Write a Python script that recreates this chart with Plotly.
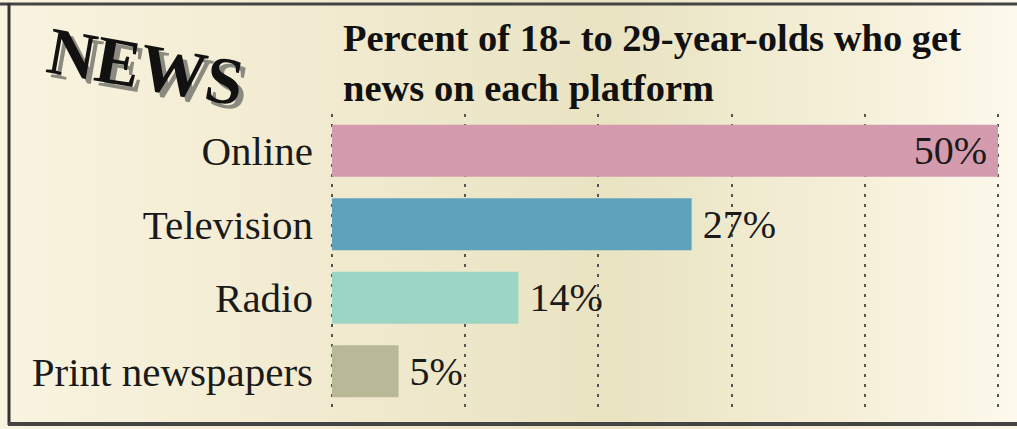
import plotly.graph_objects as go
import base64

categories = ["Online", "Television", "Radio", "Print newspapers"]
values = [50, 27, 14, 5]
bar_colors = ["#d49aae", "#5fa2bb", "#9dd5c5", "#b9b998"]
title_text = "Percent of 18- to 29-year-olds who get<br>news on each platform"
badge_text = "NEWS"

W, H = 1017, 429
XMIN, XMAX = -0.3, 50.3
L, R, T, B = 328, 15, 114, 21
pw, ph = W - L - R, H - T - B


def px(x):
    return (x - L) / pw


def py(y):
    return (H - B - y) / ph


svg = f'''<svg xmlns="http://www.w3.org/2000/svg" width="{W}" height="{H}" viewBox="0 0 {W} {H}" preserveAspectRatio="none">
<defs><linearGradient id="g" x1="0" y1="0" x2="1" y2="0">
<stop offset="0" stop-color="#f9f4e0"/>
<stop offset="0.3" stop-color="#f2ebd1"/>
<stop offset="0.6" stop-color="#e9e3c2"/>
<stop offset="0.85" stop-color="#f6f0da"/>
<stop offset="1" stop-color="#fdf9ec"/>
</linearGradient></defs>
<rect x="0" y="0" width="{W}" height="{H}" fill="url(#g)"/>
</svg>'''
bg_uri = "data:image/svg+xml;base64," + base64.b64encode(svg.encode()).decode()

labels = [f"{v}%" for v in values]
text_pos = ["inside", "outside", "outside", "outside"]
templates = ["%{text}\u2009" if p == "inside" else "\u2009%{text}" for p in text_pos]

label_font = dict(family="Liberation Serif", size=40, color="#1a1a1a")

fig = go.Figure()
fig.add_trace(go.Bar(
    x=values, y=categories, orientation="h",
    marker=dict(color=bar_colors, line=dict(width=0)),
    text=labels, texttemplate=templates, textposition=text_pos,
    insidetextanchor="end",
    textfont=label_font, insidetextfont=label_font, outsidetextfont=label_font,
    cliponaxis=False,
    width=0.71,
    hoverinfo="skip",
))

fig.update_layout(
    width=W, height=H,
    margin=dict(l=L, r=R, t=T, b=B, pad=0),
    paper_bgcolor="#f3edd4",
    plot_bgcolor="rgba(0,0,0,0)",
    showlegend=False,
    uniformtext=dict(mode=False),
    xaxis=dict(range=[XMIN, XMAX], tickvals=[0, 10, 20, 30, 40, 50], showticklabels=False,
               showgrid=True, gridcolor="#555555", griddash="3px,7px", gridwidth=2,
               zeroline=False, showline=False, fixedrange=True),
    yaxis=dict(categoryorder="array", categoryarray=categories[::-1], autorange=True,
               showgrid=False, zeroline=False, showline=False, ticks="",
               ticklabelstandoff=14,
               tickfont=dict(family="Liberation Serif", size=41, color="#1a1a1a")),
    images=[dict(source=bg_uri, xref="paper", yref="paper",
                 x=px(0), y=py(0), sizex=W / pw, sizey=H / ph,
                 xanchor="left", yanchor="top", sizing="stretch", layer="below")],
    annotations=[
        dict(text=f"<b>{title_text}</b>", xref="paper", yref="paper",
             x=px(341), y=py(15), xanchor="left", yanchor="top",
             align="left", showarrow=False,
             font=dict(family="Liberation Serif", size=38.5, color="#111111")),
        dict(text=f"<b>{badge_text}</b>", xref="paper", yref="paper",
             x=px(150), y=py(71), xanchor="center", yanchor="middle",
             textangle=10, showarrow=False,
             font=dict(family="Liberation Serif", size=67, color="#8a8a80")),
        dict(text=f"<b>{badge_text}</b>", xref="paper", yref="paper",
             x=px(145), y=py(66), xanchor="center", yanchor="middle",
             textangle=10, showarrow=False,
             font=dict(family="Liberation Serif", size=67, color="#111111")),
    ],
    shapes=[
        dict(type="line", xref="paper", yref="paper", x0=px(0), x1=px(W),
             y0=py(4), y1=py(4), line=dict(color="#444444", width=3)),
        dict(type="line", xref="paper", yref="paper", x0=px(9), x1=px(9),
             y0=py(3), y1=py(425), line=dict(color="#333333", width=3)),
        dict(type="line", xref="paper", yref="paper", x0=px(8), x1=px(W),
             y0=py(424), y1=py(424), line=dict(color="#444444", width=4)),
    ],
)

fig.write_html("out.html")
